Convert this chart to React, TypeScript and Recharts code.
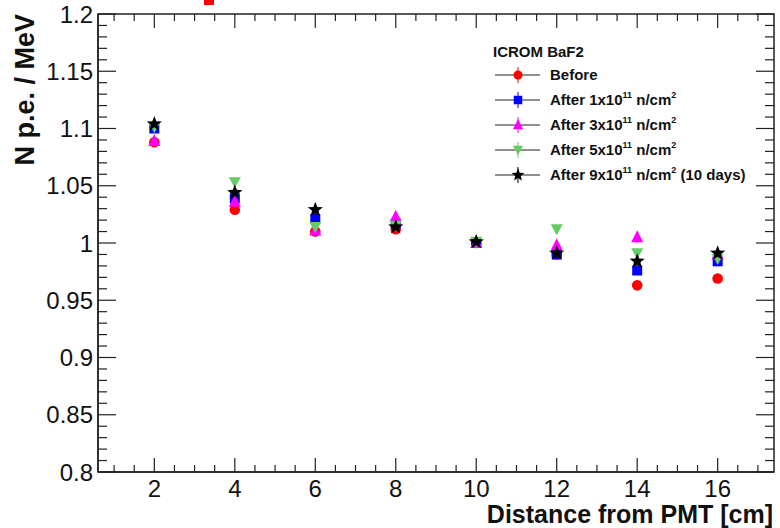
import React from 'react';
import { ScatterChart, Scatter, XAxis, YAxis, ErrorBar, ReferenceArea, Label } from 'recharts';

const distances = [2, 4, 6, 8, 10, 12, 14, 16];
const before = [1.088, 1.029, 1.010, 1.012, 1.000, 0.990, 0.963, 0.969];
const after1 = [1.100, 1.039, 1.021, 1.017, 1.000, 0.990, 0.976, 0.984];
const after3 = [1.089, 1.036, 1.011, 1.023, 1.000, 0.998, 1.005, 0.990];
const after5 = [1.101, 1.053, 1.014, 1.015, 1.001, 1.012, 0.991, 0.986];
const after9 = [1.104, 1.044, 1.029, 1.014, 1.001, 0.991, 0.984, 0.991];
const errBefore = [0.004, 0.004, 0.003, 0.004, 0.003, 0.004, 0.004, 0.004];
const errAfter1 = [0.004, 0.004, 0.004, 0.004, 0.003, 0.004, 0.004, 0.004];
const errAfter3 = [0.004, 0.004, 0.004, 0.004, 0.003, 0.004, 0.005, 0.004];
const errAfter5 = [0.004, 0.004, 0.004, 0.004, 0.003, 0.004, 0.004, 0.004];
const errAfter9 = [0.004, 0.004, 0.004, 0.005, 0.003, 0.004, 0.004, 0.005];

const xLabels = [2, 4, 6, 8, 10, 12, 14, 16];
const yLabels = ['0.8', '0.85', '0.9', '0.95', '1', '1.05', '1.1', '1.15', '1.2'];

// minor tick positions
const xTicks: number[] = [];
for (let i = 2; i <= 34; i++) xTicks.push(i / 2);
const yTicks: number[] = [];
for (let i = 80; i <= 120; i++) yTicks.push(i / 100);

const PLOT_LEFT = 98;
const PLOT_RIGHT = 774;
const PLOT_TOP = 14;
const PLOT_BOTTOM = 472;
const FONT = '"Liberation Sans", Arial, Helvetica, sans-serif';

type Kind = 'circle' | 'square' | 'triangle' | 'down' | 'star';

const Marker = ({ kind, cx, cy, color, s = 1 }: { kind: Kind; cx: number; cy: number; color: string; s?: number }) => {
  if (kind === 'circle') return <circle cx={cx} cy={cy} r={5.3 * s} fill={color} />;
  if (kind === 'square') return <rect x={cx - 5 * s} y={cy - 5 * s} width={10 * s} height={10 * s} fill={color} />;
  if (kind === 'triangle')
    return <polygon points={`${cx},${cy - 7 * s} ${cx + 6 * s},${cy + 5 * s} ${cx - 6 * s},${cy + 5 * s}`} fill={color} />;
  if (kind === 'down')
    return <polygon points={`${cx - 6 * s},${cy - 5 * s} ${cx + 6 * s},${cy - 5 * s} ${cx},${cy + 6 * s}`} fill={color} />;
  const pts: string[] = [];
  for (let i = 0; i < 10; i++) {
    const r = (i % 2 === 0 ? 8 : 3.4) * s;
    const a = -Math.PI / 2 + (i * Math.PI) / 5;
    pts.push(`${cx + r * Math.cos(a)},${cy + r * Math.sin(a)}`);
  }
  return <polygon points={pts.join(' ')} fill={color} />;
};

const series = [
  { name: 'Before', values: before, errs: errBefore, color: '#ff0000', kind: 'circle' as Kind, sup: false },
  { name: 'After 1x10', values: after1, errs: errAfter1, color: '#0000ff', kind: 'square' as Kind, sup: true },
  { name: 'After 3x10', values: after3, errs: errAfter3, color: '#ff00ff', kind: 'triangle' as Kind, sup: true },
  { name: 'After 5x10', values: after5, errs: errAfter5, color: '#66cc66', kind: 'down' as Kind, sup: true },
  { name: 'After 9x10', values: after9, errs: errAfter9, color: '#000000', kind: 'star' as Kind, sup: true, extra: ' (10 days)' },
];

const XTick = (props: any) => {
  const { x, payload } = props;
  const v = payload.value;
  const major = Math.abs(v - Math.round(v)) < 1e-6 && Math.round(v) % 2 === 0;
  const len = major ? 14 : 7;
  return (
    <g>
      <line x1={x} x2={x} y1={PLOT_BOTTOM} y2={PLOT_BOTTOM - len} stroke="#222" strokeWidth={1.2} />
      <line x1={x} x2={x} y1={PLOT_TOP} y2={PLOT_TOP + len} stroke="#222" strokeWidth={1.2} />
      {major && xLabels.includes(Math.round(v)) && (
        <text x={x} y={PLOT_BOTTOM + 25} textAnchor="middle" fontSize={24} fill="#111" fontFamily={FONT}>
          {Math.round(v)}
        </text>
      )}
    </g>
  );
};

const YTick = (props: any) => {
  const { y, payload } = props;
  const v = payload.value;
  const k = Math.round(v * 100);
  const major = k % 5 === 0;
  const len = major ? 18 : 9;
  const label = major ? yLabels[(k - 80) / 5] : null;
  return (
    <g>
      <line x1={PLOT_LEFT} x2={PLOT_LEFT + len} y1={y} y2={y} stroke="#222" strokeWidth={1.2} />
      <line x1={PLOT_RIGHT} x2={PLOT_RIGHT - len} y1={y} y2={y} stroke="#222" strokeWidth={1.2} />
      {label && (
        <text x={PLOT_LEFT - 5} y={y} dy="0.36em" textAnchor="end" fontSize={24} fill="#111" fontFamily={FONT}>
          {label}
        </text>
      )}
    </g>
  );
};

const Legend = () => (
  <svg width={290} height={150} style={{ position: 'absolute', left: 485, top: 38 }}>
    <text x={8} y={19} fontSize={15} fontWeight="bold" fontFamily={FONT} fill="#111">
      ICROM BaF2
    </text>
    {series.map((s, i) => {
      const cy = 37 + i * 25;
      return (
        <g key={s.name}>
          <line x1={10} x2={55} y1={cy} y2={cy} stroke="#222" strokeWidth={1} />
          <line x1={33} x2={33} y1={cy - 8} y2={cy + 8} stroke={s.color} strokeWidth={1} />
          <Marker kind={s.kind} cx={33} cy={cy} color={s.color} s={0.85} />
          <text x={65} y={cy + 5} fontSize={15} fontWeight="bold" fontFamily={FONT} fill="#111">
            {s.name}
            {s.sup && (
              <>
                <tspan dy={-7} fontSize={9}>11</tspan>
                <tspan dy={7}> n/cm</tspan>
                <tspan dy={-7} fontSize={9}>2</tspan>
                <tspan dy={7}>{(s as any).extra || ''}</tspan>
              </>
            )}
          </text>
        </g>
      );
    })}
  </svg>
);

export default function App() {
  return (
    <div style={{ position: 'relative', width: 780, height: 528, background: '#fff', fontFamily: FONT }}>
      <style>{'body{margin:0}'}</style>
      <div style={{ position: 'absolute', left: 204, top: 0, width: 10, height: 5, background: '#ff0000' }} />
      <ScatterChart width={780} height={528} margin={{ top: PLOT_TOP, right: 780 - PLOT_RIGHT, bottom: 0, left: 0 }}>
        <XAxis
          type="number"
          dataKey="x"
          domain={[0.6, 17.4]}
          ticks={xTicks}
          interval={0}
          height={528 - PLOT_BOTTOM}
          tickLine={false}
          tickSize={0}
          axisLine={{ stroke: '#222', strokeWidth: 1.5 }}
          tick={<XTick />}
          allowDataOverflow
        >
          <Label
            content={() => (
              <text x={773} y={523} textAnchor="end" fontSize={25} fontWeight="bold" fontFamily={FONT} fill="#111">
                Distance from PMT [cm]
              </text>
            )}
          />
        </XAxis>
        <YAxis
          type="number"
          dataKey="y"
          domain={[0.8, 1.2]}
          ticks={yTicks}
          interval={0}
          width={PLOT_LEFT}
          tickLine={false}
          tickSize={0}
          axisLine={{ stroke: '#222', strokeWidth: 1.5 }}
          tick={<YTick />}
          allowDataOverflow
        >
          <Label
            content={() => (
              <text
                transform={`translate(34,14) rotate(-90)`}
                textAnchor="end"
                fontSize={27}
                fontWeight="bold"
                fontFamily={FONT}
                fill="#111"
              >
                N p.e. / MeV
              </text>
            )}
          />
        </YAxis>
        <ReferenceArea x1={0.6} x2={17.4} y1={0.8} y2={1.2} fill="none" fillOpacity={0} stroke="#222" strokeWidth={1.5} />
        {series.map((s) => (
          <Scatter
            key={s.name}
            name={s.name}
            data={distances.map((d, i) => ({ x: d, y: s.values[i], err: s.errs[i] }))}
            isAnimationActive={false}
            shape={(p: any) => <Marker kind={s.kind} cx={p.cx} cy={p.cy} color={s.color} />}
          >
            <ErrorBar dataKey="err" direction="y" width={0} stroke={s.color} strokeWidth={1} />
          </Scatter>
        ))}
      </ScatterChart>
      <Legend />
    </div>
  );
}
